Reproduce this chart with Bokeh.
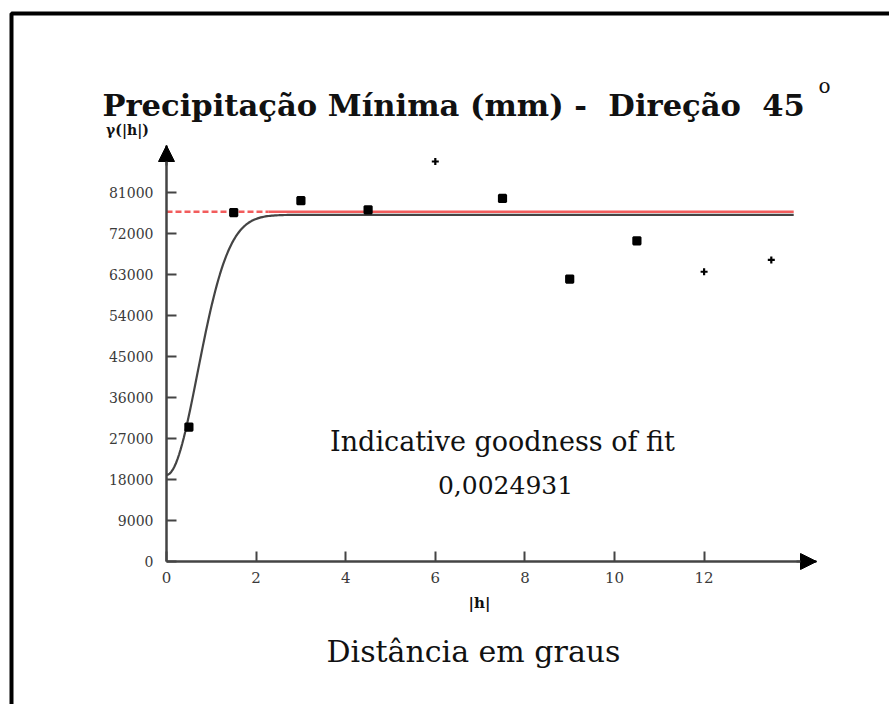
import numpy as np
from bokeh.plotting import figure
from bokeh.models import (Range1d, FixedTicker, Label, Arrow, NormalHead,
                          ColumnDataSource)
from bokeh.embed import file_html
from bokeh.resources import INLINE

# Experimental semivariogram, minimum precipitation (mm), direction 45 degrees
lag = [0.5, 1.5, 3.0, 4.5, 6.0, 7.5, 9.0, 10.5, 12.0, 13.5]
gamma = [29500, 76600, 79200, 77200, 87800, 79700, 62000, 70400, 63600, 66200]
point_marker = ["square", "square", "square", "square", "cross",
                "square", "square", "square", "cross", "cross"]

# Fitted Gaussian model and sample variance
model_nugget = 19000
model_sill = 76100
model_range = 1.70
sample_variance = 76800
lag_max = 14.0
variance_dash_end = 2.28

x_ticks = [0, 2, 4, 6, 8, 10, 12]
x_tick_labels = ["0", "2", "4", "6", "8", "10", "12"]
y_ticks = [0, 9000, 18000, 27000, 36000, 45000, 54000, 63000, 72000, 81000]
y_tick_labels = ["0", "9000", "18000", "27000", "36000", "45000",
                 "54000", "63000", "72000", "81000"]

NBSP = "\u00a0"
title_text = f"Precipitação Mínima (mm) -{NBSP}{NBSP}Direção{NBSP}{NBSP}45"
fit_label = "Indicative goodness of fit"
fit_value = "0,0024931"

# page geometry: where the axes cross and how far they run (pixels)
W, H = 889, 704
ORIGIN_X, ORIGIN_Y = 166, 561
AXIS_X_END, AXIS_Y_END = 816, 145
PX_PER_H = 44.8
PX_PER_G = 41.0 / 9000


def hx(px):
    """page x pixel -> lag units"""
    return (px - ORIGIN_X) / PX_PER_H


def gy(py):
    """page y pixel -> semivariance units"""
    return (ORIGIN_Y - py) / PX_PER_G


SERIF = "DejaVu Serif"
AXIS_GREY = "#444444"
INK = "#111111"

# the frame spans the whole page; the axes are pinned at the origin
p = figure(width=W, height=H, output_backend="svg", toolbar_location=None,
           x_range=Range1d(hx(0), hx(W)), y_range=Range1d(gy(H), gy(0)),
           min_border=0)
p.outline_line_color = None
p.grid.visible = False
p.background_fill_color = "white"
p.border_fill_color = "white"

# page border: left and top rules, running off the page at right and bottom
p.line([hx(11), hx(11), hx(W + 30)], [gy(H + 30), gy(13), gy(13)],
       line_color="black", line_width=4)

for ax in (p.xaxis[0], p.yaxis[0]):
    ax.fixed_location = 0
    ax.axis_line_color = AXIS_GREY
    ax.axis_line_width = 2.5
    ax.major_tick_line_color = AXIS_GREY
    ax.major_tick_line_width = 2
    ax.major_tick_in = 10
    ax.major_tick_out = 0
    ax.minor_tick_line_color = None
    ax.major_label_text_font = SERIF
    ax.major_label_text_color = "#3a3a3a"

p.xaxis.bounds = (0, hx(AXIS_X_END))
p.xaxis.ticker = FixedTicker(ticks=x_ticks)
p.xaxis.major_label_overrides = dict(zip(x_ticks, x_tick_labels))
p.xaxis.major_label_text_font_size = "15px"
p.xaxis.major_label_standoff = 10

p.yaxis.bounds = (0, gy(AXIS_Y_END))
p.yaxis.ticker = FixedTicker(ticks=y_ticks)
p.yaxis.major_label_overrides = dict(zip(y_ticks, y_tick_labels))
p.yaxis.major_label_text_font_size = "14px"
p.yaxis.major_label_standoff = 13

# axis arrow heads
p.add_layout(Arrow(end=NormalHead(size=16, fill_color="black", line_color="black"),
                   line_color=AXIS_GREY, line_width=2,
                   x_start=0, y_start=gy(AXIS_Y_END + 20), x_end=0, y_end=gy(AXIS_Y_END)))
p.add_layout(Arrow(end=NormalHead(size=16, fill_color="black", line_color="black"),
                   line_color=AXIS_GREY, line_width=2,
                   x_start=hx(AXIS_X_END - 20), y_start=0, x_end=hx(AXIS_X_END), y_end=0))

# sample variance: dashed near the origin, solid beyond
p.line([0, variance_dash_end], [sample_variance, sample_variance],
       line_color="#f25c5c", line_width=2.5, line_dash="6 3")
p.line([variance_dash_end, lag_max], [sample_variance, sample_variance],
       line_color="#f25c5c", line_width=2.5)

# Gaussian model curve
h = np.linspace(0, lag_max, 400)
g = model_nugget + (model_sill - model_nugget) * (1 - np.exp(-3 * h ** 2 / model_range ** 2))
p.line(h, g, line_color=AXIS_GREY, line_width=2.2)

# experimental points
src = ColumnDataSource(dict(lag=lag, gamma=gamma, marker=point_marker))
p.scatter("lag", "gamma", source=src, marker="marker", size=7,
          fill_color="black", line_color="black", line_width=2.2)

# texts
p.add_layout(Label(x=hx(102), y=gy(104), text=title_text, text_font=SERIF,
                   text_font_style="bold", text_font_size="30.6px",
                   text_align="left", text_baseline="alphabetic", text_color=INK))
p.add_layout(Label(x=hx(824), y=gy(85), text="o", text_font=SERIF,
                   text_font_size="20px", text_align="center", text_baseline="middle",
                   text_color=INK))
p.add_layout(Label(x=hx(127), y=gy(129), text="γ(|h|)", text_font=SERIF,
                   text_font_style="bold", text_font_size="14px",
                   text_align="center", text_baseline="middle", text_color=INK))
p.add_layout(Label(x=hx(479), y=gy(602), text="|h|", text_font=SERIF,
                   text_font_style="bold", text_font_size="15px",
                   text_align="center", text_baseline="middle", text_color=INK))
p.add_layout(Label(x=hx(473), y=gy(651), text="Distância em graus", text_font=SERIF,
                   text_font_size="30px", text_align="center",
                   text_baseline="alphabetic", text_color=INK))
p.add_layout(Label(x=hx(502), y=gy(441), text=fit_label, text_font=SERIF,
                   text_font_size="27px", text_align="center",
                   text_baseline="alphabetic", text_color=INK))
p.add_layout(Label(x=hx(505), y=gy(484), text=fit_value, text_font=SERIF,
                   text_font_size="25px", text_align="center",
                   text_baseline="alphabetic", text_color=INK))

open("out.html", "w").write(file_html(p, INLINE))
